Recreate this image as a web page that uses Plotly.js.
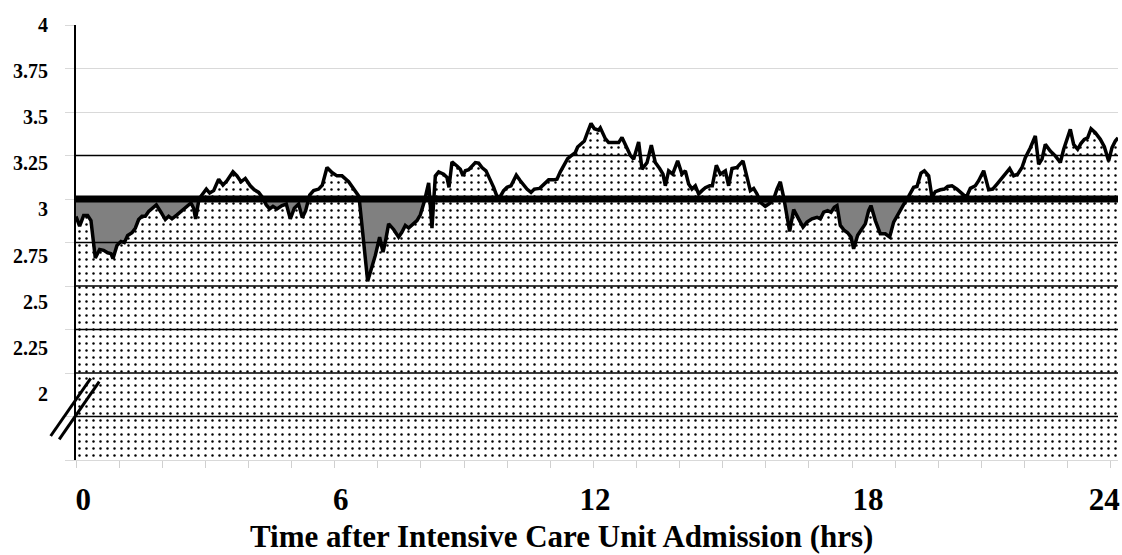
<!DOCTYPE html>
<html>
<head>
<meta charset="utf-8">
<script src="https://cdn.plot.ly/plotly-3.0.1.min.js"></script>
<style>html,body{margin:0;padding:0;background:#fff;}#chart{width:1122px;height:555px;}</style>
</head>
<body>
<div id="chart"></div>
<script>
// ---- data (hours after ICU admission, value) ----
const hoursA = [0,0.084,0.177,0.27,0.347,0.448,0.548,0.641,0.734,0.811,0.857,0.95,1.043,1.12,1.198,1.298,1.376,1.453,1.53,1.608,1.685,1.762,1.863,1.971,2.071,2.149,2.226,2.342,2.458,2.574,2.667,2.729,2.775,2.853,2.945,3.023,3.1,3.193,3.309,3.409,3.502,3.641,3.734,3.827,3.927,4.043,4.136,4.237,4.322,4.414,4.492,4.569,4.662,4.778,4.878,4.971,5.064,5.164,5.249,5.327,5.42,5.512,5.628,5.713,5.822,5.938,6.054];
const valuesA = [2.90,2.844,2.905,2.905,2.876,2.661,2.71,2.705,2.691,2.686,2.657,2.733,2.756,2.749,2.79,2.806,2.832,2.882,2.901,2.901,2.928,2.947,2.966,2.924,2.882,2.901,2.886,2.909,2.933,2.958,2.977,2.947,2.886,3.0,3.034,3.057,3.034,3.048,3.114,3.08,3.105,3.156,3.133,3.099,3.118,3.076,3.053,3.038,3.01,2.966,2.943,2.958,2.943,2.962,2.971,2.886,2.947,2.971,2.893,2.933,3.023,3.048,3.057,3.08,3.181,3.152,3.133];

const hoursB = [6.17,6.324,6.456,6.564,6.765,6.866,6.943,7.043,7.121,7.175,7.252,7.368,7.484,7.561,7.639,7.716,7.817,7.909,7.987,8.079,8.18,8.219,8.257,8.335,8.412,8.528,8.605,8.652,8.721,8.837,8.915,8.977,9.031,9.108,9.185,9.263,9.34,9.417,9.51,9.61,9.688,9.765,9.842,9.92,9.997,10.09,10.152,10.213,10.306,10.384,10.461,10.554,10.631,10.755,10.863,10.963,11.079,11.157,11.234,11.311,11.404,11.482,11.582,11.636,11.714,11.791,11.868,11.946,12.023,12.123];
const valuesB = [3.133,3.099,3.057,3.015,2.528,2.604,2.676,2.781,2.695,2.752,2.857,2.825,2.781,2.81,2.848,2.833,2.857,2.876,2.909,2.985,3.092,2.981,2.832,3.133,3.156,3.143,3.124,3.067,3.213,3.19,3.171,3.133,3.162,3.168,3.19,3.209,3.206,3.181,3.162,3.114,3.067,3.015,3.015,3.048,3.067,3.076,3.105,3.137,3.105,3.08,3.057,3.038,3.057,3.061,3.086,3.11,3.11,3.114,3.156,3.194,3.232,3.248,3.267,3.299,3.314,3.333,3.385,3.434,3.404,3.396];

const hoursC = [12.162,12.278,12.355,12.471,12.587,12.665,12.765,12.858,12.935,13.051,13.129,13.245,13.345,13.438,13.538,13.616,13.67,13.747,13.84,13.956,14.056,14.134,14.211,14.288,14.366,14.443,14.52,14.598,14.698,14.76,14.853,14.946,15.062,15.139,15.216,15.332,15.471,15.564,15.642,15.719,15.796,15.889,15.989,16.105,16.183,16.26,16.337,16.415,16.492,16.554,16.647,16.763,16.863,16.956,17.072,17.188,17.265,17.343,17.435,17.513,17.59,17.652,17.729,17.822,17.899,17.977,18.038];
const valuesC = [3.409,3.347,3.324,3.324,3.324,3.354,3.301,3.251,3.229,3.328,3.171,3.209,3.309,3.209,3.175,3.143,3.076,3.162,3.143,3.219,3.143,3.162,3.086,3.057,3.076,3.029,3.048,3.065,3.076,3.076,3.194,3.143,3.162,3.076,3.175,3.181,3.219,3.114,3.048,3.061,3.029,2.977,2.958,2.977,3.0,3.057,3.099,3.01,2.905,2.813,2.939,2.886,2.838,2.867,2.886,2.895,2.886,2.924,2.933,2.924,2.952,2.962,2.848,2.819,2.806,2.781,2.714];

const hoursD = [18.131,18.232,18.309,18.386,18.44,18.541,18.657,18.773,18.873,18.966,19.044,19.105,19.183,19.314,19.43,19.507,19.6,19.678,19.778,19.855,19.933,20.049,20.142,20.219,20.319,20.435,20.551,20.652,20.745,20.861,20.938,21.054,21.17,21.263,21.363,21.518,21.657,21.75,21.843,21.943,22.02,22.137,22.252,22.33,22.407,22.484,22.6,22.716,22.832,22.91,23.064,23.141,23.234,23.312,23.389,23.466,23.544,23.644,23.76,23.853,23.953,24.031,24.108,24.17];
const valuesD = [2.791,2.829,2.857,2.933,2.962,2.876,2.8,2.8,2.781,2.867,2.905,2.933,2.962,3.015,3.067,3.072,3.149,3.162,3.133,3.01,3.042,3.053,3.057,3.072,3.076,3.057,3.034,3.01,3.061,3.076,3.105,3.162,3.053,3.057,3.086,3.133,3.175,3.133,3.143,3.181,3.238,3.295,3.362,3.2,3.229,3.314,3.276,3.248,3.21,3.286,3.4,3.314,3.286,3.32,3.343,3.352,3.404,3.381,3.343,3.301,3.219,3.295,3.333,3.352];

const threshold = 3;
const xTickLabels = ['0','6','12','18','24'];
const xLabelPos = [0.17, 6.14, 12.04, 18.37, 23.85];
const yTickLabels = ['4','3.75','3.5','3.25','3','2.75','2.5','2.25','2'];
const yTickVals = [4,3.75,3.5,3.25,3,2.75,2.5,2.25,2];
const blackGrid = [3.25, 2.75, 2.5, 2.25, 2, 1.75];
const xTitle = 'Time after Intensive Care Unit Admission (hrs)';

// ---- build ----
const hours = hoursA.concat(hoursB, hoursC, hoursD);
const values = valuesA.concat(valuesB, valuesC, valuesD);

// below-threshold region with crossing points
const gx = [], gy = [];
for (let i = 0; i < hours.length; i++) {
  gx.push(hours[i]); gy.push(Math.min(values[i], threshold));
  if (i < hours.length - 1) {
    const a = values[i] - threshold, b = values[i+1] - threshold;
    if (a * b < 0) {
      const t = a / (a - b);
      gx.push(hours[i] + t * (hours[i+1] - hours[i])); gy.push(threshold);
    }
  }
}
const base = gx.map(() => threshold);

const serif = 'Liberation Serif, Times New Roman, serif';
const xEnd = 24.17;

const traces = [
  { x: hours, y: values, type: 'scatter', mode: 'lines', line: {width: 0, color: 'black'},
    fill: 'tozeroy', fillcolor: 'white',
    fillpattern: {shape: '.', size: 7, solidity: 0.1, fgcolor: 'black', bgcolor: 'white'},
    hoverinfo: 'skip' },
  { x: gx, y: base, type: 'scatter', mode: 'lines', line: {width: 0}, hoverinfo: 'skip' },
  { x: gx, y: gy, type: 'scatter', mode: 'lines', line: {width: 0}, fill: 'tonexty',
    fillcolor: '#808080', hoverinfo: 'skip' },
  { x: [0, xEnd], y: [threshold, threshold], type: 'scatter', mode: 'lines',
    line: {width: 7, color: 'black'}, hoverinfo: 'skip' },
  { x: hours, y: values, type: 'scatter', mode: 'lines', line: {width: 3.5, color: 'black'}, hoverinfo: 'skip' },
  { x: [0], y: [3], yaxis: 'y2', type: 'scatter', mode: 'markers', marker: {opacity: 0}, hoverinfo: 'skip' }
];

const shapes = blackGrid.map(v => ({
  type: 'line', xref: 'paper', yref: 'y', x0: 0, x1: 1, y0: v, y1: v, layer: 'above',
  line: {color: 'black', width: 1.5}
}));
// axis break marks
shapes.push({type: 'line', xref: 'paper', yref: 'paper', x0: -0.0243, y0: 0.0552, x1: 0.0141, y1: 0.1878, line: {color: 'black', width: 3}});
shapes.push({type: 'line', xref: 'paper', yref: 'paper', x0: -0.0161, y0: 0.0476, x1: 0.0223, y1: 0.18, line: {color: 'black', width: 3}});

const layout = {
  width: 1122, height: 555,
  margin: {l: 76, r: 4, t: 25, b: 95},
  paper_bgcolor: 'white', plot_bgcolor: 'white',
  showlegend: false, hovermode: false,
  xaxis: {
    range: [0, xEnd], showgrid: false, zeroline: false,
    showline: true, linecolor: '#d9d9d9', linewidth: 1,
    tickmode: 'array', tickvals: xLabelPos, ticktext: xTickLabels, ticks: '',
    ticklabelstandoff: 12,
    tickfont: {family: serif, size: 31, color: 'black', weight: 'bold'},
    minor: {tickmode: 'linear', tick0: 0, dtick: 1, ticks: 'outside', ticklen: 7, tickcolor: '#d0d0d0', showgrid: false}
  },
  yaxis: {
    range: [1.5, 4], dtick: 0.25, tick0: 0, showgrid: true, gridcolor: '#d9d9d9', gridwidth: 1,
    zeroline: false, showline: true, linecolor: 'black', linewidth: 2,
    ticks: 'outside', ticklen: 9, tickcolor: '#d9d9d9', showticklabels: false
  },
  yaxis2: {
    overlaying: 'y', side: 'left', range: [1.641, 4], showgrid: false, zeroline: false,
    showline: false, ticks: '', tickmode: 'array', tickvals: yTickVals, ticktext: yTickLabels,
    ticklabelstandoff: 27,
    tickfont: {family: serif, size: 20, color: 'black', weight: 'bold'}
  },
  shapes: shapes,
  annotations: [{
    text: xTitle, xref: 'paper', yref: 'paper', x: 0.4655, y: -0.177,
    xanchor: 'center', yanchor: 'middle', showarrow: false,
    font: {family: serif, size: 31, color: 'black', weight: 'bold'}
  }]
};

Plotly.newPlot('chart', traces, layout, {displayModeBar: false, staticPlot: true});
</script>
</body>
</html>
